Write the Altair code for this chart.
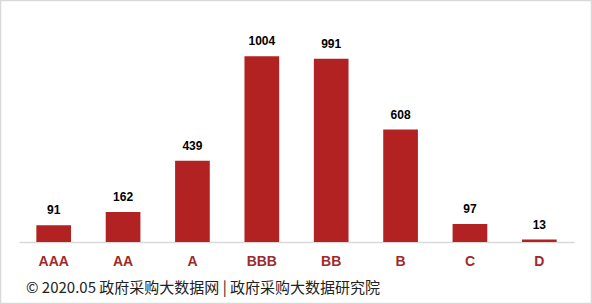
import altair as alt
import pandas as pd

# Credit rating distribution
ratings = ["AAA", "AA", "A", "BBB", "BB", "B", "C", "D"]
counts = [91, 162, 439, 1004, 991, 608, 97, 13]
footer = ["© 2020.05 政府采购大数据网 | 政府采购大数据研究院"]

df = pd.DataFrame({"rating": ratings, "count": counts})
foot_df = pd.DataFrame({"text": footer})

x = alt.X("rating:N", sort=ratings, title=None,
          scale=alt.Scale(paddingInner=0.5, paddingOuter=0.25),
          axis=alt.Axis(labelAngle=0, labelFontSize=14, labelFontWeight="bold",
                        labelColor="#9e2a2b", labelFont="Liberation Sans",
                        labelPadding=12, ticks=False, domainColor="#d9d9d9",
                        domainWidth=1.5))
y = alt.Y("count:Q", title=None, scale=alt.Scale(domain=[0, 1200]), axis=None)

bars = alt.Chart(df).mark_bar(color="#b22222").encode(x=x, y=y)

labels = alt.Chart(df).mark_text(
    dy=-11, baseline="alphabetic", fontSize=12, fontWeight="bold",
    font="Liberation Sans", color="#000000"
).encode(x=x, y=y, text="count:Q")

foot = alt.Chart(foot_df).mark_text(
    align="left", baseline="middle", fontSize=15,
    font="Noto Sans CJK SC", color="#222222"
).encode(x=alt.value(7), y=alt.value(268), text="text:N")

frame = alt.Chart(foot_df).mark_rect(
    fill=None, stroke="#d9d9d9", strokeWidth=1.5
).encode(x=alt.value(-18.5), x2=alt.value(572.5),
         y=alt.value(-19.5), y2=alt.value(283.5))

chart = alt.layer(bars, labels, foot, frame).properties(
    width=555, height=222,
    padding={"left": 19, "top": 20, "right": 18, "bottom": 62},
    autosize=alt.AutoSizeParams(type="none"),
    background="#ffffff",
).configure_view(stroke=None)

chart.save("out.html", embed_options={"renderer": "svg", "actions": False})
